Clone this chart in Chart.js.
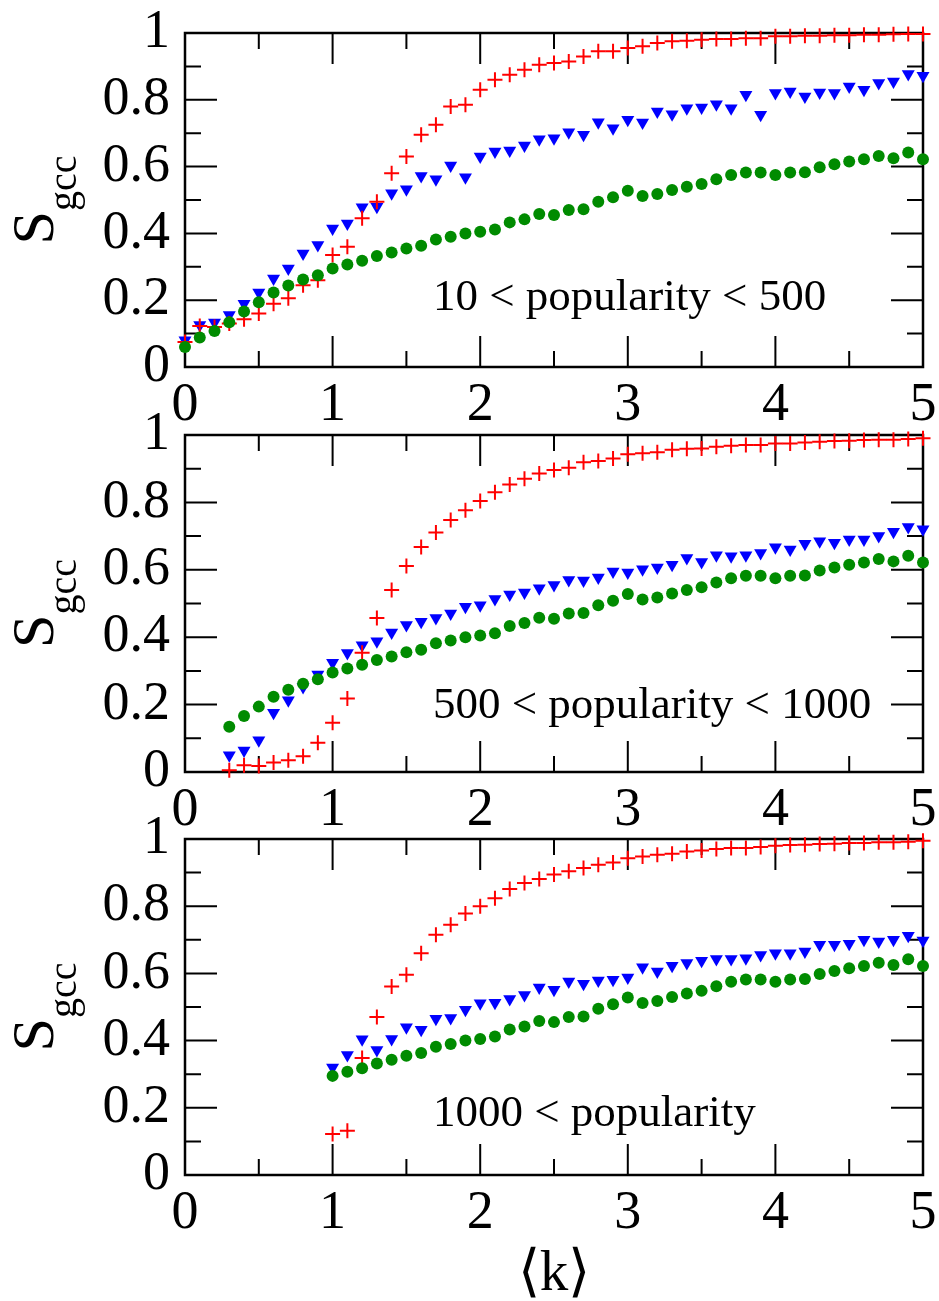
<!DOCTYPE html>
<html>
<head>
<meta charset="utf-8">
<script src="https://cdn.jsdelivr.net/npm/chart.js@4.4.1/dist/chart.umd.min.js"></script>
<style>
  html, body { margin: 0; padding: 0; background: #fff; }
  #wrap { position: relative; width: 939px; height: 1301px; }
  #wrap canvas { position: absolute; left: 0; }
</style>
</head>
<body>
<div id="wrap">
  <canvas id="panel1" width="939" height="440" style="top:0"></canvas>
  <canvas id="panel2" width="939" height="440" style="top:400px"></canvas>
  <canvas id="panel3" width="939" height="496" style="top:805px"></canvas>
</div>
<script>
// mean degree <k> grid shared by every series (all series end at k = 5)
const kGrid = [0, 0.1, 0.2, 0.3, 0.4, 0.5, 0.6, 0.7, 0.8, 0.9,
  1.0, 1.1, 1.2, 1.3, 1.4, 1.5, 1.6, 1.7, 1.8, 1.9,
  2.0, 2.1, 2.2, 2.3, 2.4, 2.5, 2.6, 2.7, 2.8, 2.9,
  3.0, 3.1, 3.2, 3.3, 3.4, 3.5, 3.6, 3.7, 3.8, 3.9,
  4.0, 4.1, 4.2, 4.3, 4.4, 4.5, 4.6, 4.7, 4.8, 4.9, 5.0];

// green circles: same reference curve in all three panels
const sgccGreen = [0.06, 0.088, 0.108, 0.134, 0.166, 0.194, 0.223, 0.244, 0.262, 0.275,
  0.295, 0.307, 0.318, 0.332, 0.343, 0.355, 0.363, 0.382, 0.39, 0.40,
  0.405, 0.412, 0.433, 0.442, 0.458, 0.455, 0.47, 0.472, 0.495, 0.508,
  0.528, 0.512, 0.518, 0.53, 0.54, 0.548, 0.562, 0.575, 0.582, 0.582,
  0.575, 0.582, 0.583, 0.598, 0.607, 0.615, 0.622, 0.632, 0.625, 0.642, 0.622];

// 10 < popularity < 500  (k = 0 .. 5)
const sgccRedLow = [0.075, 0.123, 0.12, 0.13, 0.143, 0.16, 0.189, 0.206, 0.245, 0.26,
  0.335, 0.36, 0.445, 0.495, 0.58, 0.63, 0.695, 0.725, 0.78, 0.785,
  0.83, 0.86, 0.875, 0.89, 0.905, 0.91, 0.915, 0.93, 0.945, 0.945,
  0.955, 0.96, 0.97, 0.975, 0.977, 0.98, 0.982, 0.982, 0.984, 0.984,
  0.99, 0.99, 0.992, 0.992, 0.993, 0.993, 0.995, 0.995, 0.996, 0.997, 0.997];
const sgccBlueLow = [0.08, 0.126, 0.133, 0.156, 0.189, 0.223, 0.265, 0.295, 0.34, 0.365,
  0.415, 0.43, 0.478, 0.48, 0.52, 0.532, 0.572, 0.562, 0.603, 0.568,
  0.63, 0.645, 0.648, 0.663, 0.682, 0.685, 0.703, 0.695, 0.733, 0.715,
  0.74, 0.732, 0.765, 0.757, 0.775, 0.777, 0.787, 0.775, 0.815, 0.755,
  0.82, 0.825, 0.81, 0.822, 0.82, 0.84, 0.83, 0.85, 0.855, 0.877, 0.872];

// 500 < popularity < 1000  (k = 0.3 .. 5)
const sgccRedMid = [0.005, 0.02, 0.018, 0.028, 0.035, 0.047, 0.087,
  0.146, 0.218, 0.354, 0.457, 0.54, 0.611, 0.668, 0.711, 0.748, 0.777,
  0.804, 0.83, 0.853, 0.87, 0.886, 0.896, 0.903, 0.919, 0.923, 0.93,
  0.943, 0.946, 0.949, 0.956, 0.959, 0.96, 0.965, 0.968, 0.97, 0.97,
  0.975, 0.975, 0.978, 0.98, 0.982, 0.983, 0.985, 0.986, 0.986, 0.988, 0.99];
const sgccBlueMid = [0.05, 0.064, 0.094, 0.176, 0.213, 0.252, 0.289,
  0.324, 0.353, 0.376, 0.388, 0.414, 0.436, 0.446, 0.457, 0.47, 0.49,
  0.495, 0.513, 0.527, 0.533, 0.545, 0.555, 0.57, 0.568, 0.577, 0.595,
  0.592, 0.602, 0.607, 0.615, 0.635, 0.623, 0.643, 0.64, 0.643, 0.65,
  0.667, 0.66, 0.677, 0.685, 0.68, 0.69, 0.69, 0.70, 0.713, 0.727, 0.72];

// 1000 < popularity  (k = 1 .. 5)
const sgccRedHigh = [0.122, 0.132, 0.348, 0.47, 0.561, 0.596, 0.66, 0.715, 0.745, 0.778,
  0.80, 0.824, 0.851, 0.869, 0.881, 0.894, 0.904, 0.914, 0.923, 0.93,
  0.943, 0.948, 0.953, 0.956, 0.963, 0.966, 0.97, 0.973, 0.973, 0.976,
  0.98, 0.982, 0.983, 0.985, 0.986, 0.988, 0.988, 0.99, 0.99, 0.992, 0.995];
const sgccBlueHigh = [0.32, 0.357, 0.404, 0.372, 0.405, 0.44, 0.432, 0.465, 0.467, 0.492,
  0.511, 0.513, 0.524, 0.536, 0.558, 0.551, 0.576, 0.569, 0.579, 0.581,
  0.588, 0.618, 0.606, 0.623, 0.631, 0.638, 0.643, 0.643, 0.645, 0.655,
  0.66, 0.66, 0.665, 0.685, 0.685, 0.688, 0.70, 0.695, 0.70, 0.712, 0.698];

const panelLabels = ['10 < popularity < 500', '500 < popularity < 1000', '1000 < popularity'];

const xTicks = [0, 1, 2, 3, 4, 5];
const xMinorTicks = [0.5, 1.5, 2.5, 3.5, 4.5];
const yTicks = [0, 0.2, 0.4, 0.6, 0.8, 1];
const yMinorTicks = [0.1, 0.3, 0.5, 0.7, 0.9];

const RED = '#ff0000';
const BLUE = '#0000ff';
const GREEN = 'rgb(0,139,0)';
const SERIF = "'Liberation Serif', 'Times New Roman', serif";

function pairs(ys) {
  const off = kGrid.length - ys.length;
  return ys.map((y, i) => ({ x: kGrid[off + i], y: y }));
}

// box, inward ticks on all four sides, annotation and axis titles
const framePlugin = {
  id: 'frame',
  beforeDatasetsDraw(chart) {
    const { ctx, chartArea: a, scales } = chart;
    const sx = scales.x, sy = scales.y;
    ctx.save();
    ctx.strokeStyle = '#000';
    ctx.lineWidth = 2;
    ctx.beginPath();
    const tickX = (v, len) => {
      const px = sx.getPixelForValue(v);
      ctx.moveTo(px, a.bottom); ctx.lineTo(px, a.bottom - len);
      ctx.moveTo(px, a.top); ctx.lineTo(px, a.top + len);
    };
    const tickY = (v, len) => {
      const py = sy.getPixelForValue(v);
      ctx.moveTo(a.left, py); ctx.lineTo(a.left + len, py);
      ctx.moveTo(a.right, py); ctx.lineTo(a.right - len, py);
    };
    xTicks.forEach(v => tickX(v, 31));
    xMinorTicks.forEach(v => tickX(v, 16));
    yTicks.forEach(v => tickY(v, 32));
    yMinorTicks.forEach(v => tickY(v, 16));
    ctx.stroke();
    ctx.lineWidth = 2.5;
    ctx.strokeRect(a.left, a.top, a.width, a.height);
    ctx.restore();
  },
  afterDraw(chart, args, opts) {
    const { ctx, chartArea: a, scales } = chart;
    ctx.save();
    ctx.fillStyle = '#000';
    ctx.textBaseline = 'alphabetic';

    // panel annotation
    ctx.font = '45px ' + SERIF;
    ctx.textAlign = 'left';
    ctx.fillText(opts.note, scales.x.getPixelForValue(opts.noteX), scales.y.getPixelForValue(opts.noteY));

    // y title: S with subscript gcc, rotated
    const cy = (a.top + a.bottom) / 2;
    ctx.translate(53, cy);
    ctx.rotate(-Math.PI / 2);
    ctx.font = '60px ' + SERIF;
    const wS = ctx.measureText('S').width;
    ctx.font = '40px ' + SERIF;
    const wSub = ctx.measureText('gcc').width;
    const x0 = -(wS + wSub) / 2;
    ctx.font = '60px ' + SERIF;
    ctx.fillText('S', x0, 0);
    ctx.font = '40px ' + SERIF;
    ctx.fillText('gcc', x0 + wS, 23);
    ctx.restore();

    if (opts.xTitle) {
      ctx.save();
      ctx.fillStyle = '#000';
      ctx.font = '57px ' + SERIF;
      ctx.textAlign = 'center';
      ctx.textBaseline = 'alphabetic';
      ctx.fillText(opts.xTitle, (a.left + a.right) / 2, a.bottom + 115);
      ctx.restore();
    }
  }
};

function makePanel(id, cfg) {
  const tickFont = { family: SERIF, size: 54 };
  return new Chart(document.getElementById(id), {
    type: 'scatter',
    data: {
      datasets: [
        { data: pairs(cfg.green), pointStyle: 'circle', pointRadius: 6,
          pointBackgroundColor: GREEN, pointBorderWidth: 0, order: 0, clip: false },
        { data: pairs(cfg.red), pointStyle: 'cross', pointRadius: 7.5,
          pointBorderColor: RED, pointBorderWidth: 2, order: 1, clip: false },
        { data: pairs(cfg.blue), pointStyle: 'triangle', pointRotation: 180, pointRadius: 7.5,
          pointBackgroundColor: BLUE, pointBorderColor: BLUE, pointBorderWidth: 0, order: 2, clip: false }
      ]
    },
    options: {
      responsive: false,
      animation: false,
      events: [],
      layout: { padding: { top: cfg.padTop, right: 16, left: 0, bottom: 0 } },
      plugins: {
        legend: { display: false },
        tooltip: { enabled: false },
        frame: { note: cfg.note, noteX: 1.68, noteY: cfg.noteY, xTitle: cfg.xTitle }
      },
      scales: {
        x: {
          type: 'linear', min: 0, max: 5,
          afterBuildTicks: s => { s.ticks = xTicks.map(v => ({ value: v })); },
          afterFit: s => { s.height = cfg.xHeight; s.paddingLeft = 0; s.paddingRight = 0; },
          grid: { display: false, drawTicks: false },
          border: { display: false },
          ticks: { autoSkip: false, maxRotation: 0, padding: 6, color: '#000', font: tickFont,
            callback: v => String(v) }
        },
        y: {
          type: 'linear', min: 0, max: 1,
          afterBuildTicks: s => { s.ticks = yTicks.map(v => ({ value: v })); },
          afterFit: s => { s.width = 185; s.paddingTop = 0; s.paddingBottom = 0; },
          grid: { display: false, drawTicks: false },
          border: { display: false },
          ticks: { autoSkip: false, padding: 15, color: '#000', font: tickFont,
            callback: v => String(v) }
        }
      }
    },
    plugins: [framePlugin]
  });
}

makePanel('panel1', { green: sgccGreen, red: sgccRedLow, blue: sgccBlueLow,
  note: panelLabels[0], noteY: 0.17, padTop: 33, xHeight: 73 });
makePanel('panel2', { green: sgccGreen.slice(3), red: sgccRedMid, blue: sgccBlueMid,
  note: panelLabels[1], noteY: 0.16, padTop: 35, xHeight: 68 });
makePanel('panel3', { green: sgccGreen.slice(10), red: sgccRedHigh, blue: sgccBlueHigh,
  note: panelLabels[2], noteY: 0.146, padTop: 34, xHeight: 126, xTitle: '\u27E8k\u27E9' });
</script>
</body>
</html>
